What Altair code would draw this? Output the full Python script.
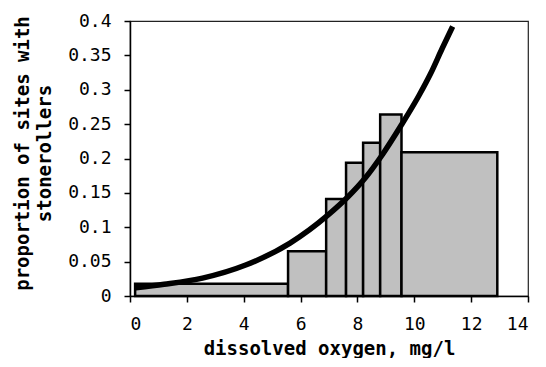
import altair as alt
import pandas as pd

# Bars: bin edges (mg/l) and proportion of sites with stonerollers
bin_start = [0.18, 5.56, 6.90, 7.60, 8.20, 8.80, 9.55]
bin_end = [5.56, 6.90, 7.60, 8.20, 8.80, 9.55, 12.92]
proportion = [0.018, 0.065, 0.141, 0.194, 0.223, 0.264, 0.209]

# Fitted curve, points
curve_x = [0.2, 1.2, 2.55, 4.07, 5.63, 6.97, 7.66, 8.28, 8.90, 9.55,
           10.17, 10.58, 10.98, 11.35]
curve_y = [0.012, 0.017, 0.026, 0.045, 0.077, 0.118, 0.144, 0.172, 0.207, 0.249,
           0.292, 0.324, 0.360, 0.392]

x_ticks = [0, 2, 4, 6, 8, 10, 12, 14]
y_ticks = [0, 0.05, 0.1, 0.15, 0.2, 0.25, 0.3, 0.35, 0.4]

df_bars = pd.DataFrame({"start": bin_start, "end": bin_end, "p": proportion,
                        "base": [0.0] * len(bin_start)})
df_curve = pd.DataFrame({"x": curve_x, "y": curve_y})

x_title = "dissolved oxygen, mg/l"
y_title = ["proportion of sites with", "stonerollers"]

x_scale = alt.Scale(domain=[0, 14], nice=False, zero=False)
y_scale = alt.Scale(domain=[0, 0.4], nice=False)

x_axis = alt.Axis(values=x_ticks, title=x_title, labelPadding=13.5, titlePadding=6)
y_axis = alt.Axis(values=y_ticks, title=y_title, format=".2~f", labelPadding=13,
                  titlePadding=13, titleY=132, titleLineHeight=22)

bars = alt.Chart(df_bars).mark_rect(
    fill="#c0c0c0", stroke="black", strokeWidth=2.5
).encode(
    x=alt.X("start:Q", scale=x_scale, axis=x_axis, title=x_title),
    x2="end:Q",
    y=alt.Y("p:Q", scale=y_scale, axis=y_axis, title=y_title),
    y2="base:Q",
)

line = alt.Chart(df_curve).mark_line(
    color="black", strokeWidth=5.5, interpolate="monotone"
).encode(
    x=alt.X("x:Q", scale=x_scale, axis=x_axis, title=x_title),
    y=alt.Y("y:Q", scale=y_scale, axis=y_axis, title=y_title),
)

chart = alt.layer(bars, line).properties(
    width=398,
    height=275,
    padding={"left": 122, "top": 13, "right": 10, "bottom": 62},
    autosize=alt.AutoSizeParams(type="none"),
).configure_view(
    stroke="#222222", strokeWidth=1.2
).configure_axis(
    grid=False,
    domainColor="black",
    domainWidth=1.5,
    tickColor="black",
    tickWidth=1.5,
    tickSize=6,
    labelFont="DejaVu Sans Mono",
    labelFontSize=18,
    labelColor="black",
    titleFont="DejaVu Sans Mono",
    titleFontSize=19,
    titleFontWeight="bold",
    titleColor="black",
)

chart.save("out.html", embed_options={"renderer": "svg", "actions": False})
